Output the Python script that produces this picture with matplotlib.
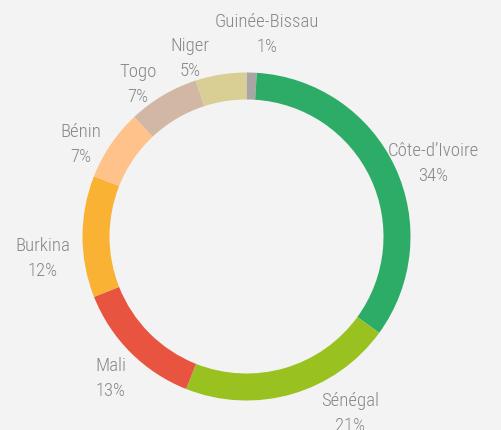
import numpy as np
import matplotlib
matplotlib.use('Agg')
import matplotlib.pyplot as plt
from matplotlib import font_manager

# ---- data (clockwise from 12 o'clock) ----
countries = ['Guinée-Bissau', "Côte-d’Ivoire", 'Sénégal', 'Mali',
             'Burkina', 'Bénin', 'Togo', 'Niger']
shares = [1, 34, 21, 13, 12, 7, 7, 5]
colors = ['#aba4a5', '#2dac68', '#99c221', '#e8543f',
          '#f9b233', '#fec28a', '#d2b7a4', '#d9cf95']

# label layout tweaks (degrees added to mid-angle, radius factor)
angle_nudge = [-4, -3.3, 14.3, 0.8, 5.7, 4.6, 4.4, 8.5]
radius_fac = [1.25, 1.23, 1.24, 1.19, 1.25, 1.16, 1.15, 1.15]

names = [f.name for f in font_manager.fontManager.ttflist]
family = 'DejaVu Sans'
for cand in ['Roboto Condensed', 'Liberation Sans Narrow', 'Roboto']:
    if cand in names:
        family = cand
        break

R = 164
W = 27

fig = plt.figure(figsize=(5.02, 4.30), dpi=100)
fig.patch.set_facecolor('#f3f3f3')
ax = fig.add_axes([0, 0, 1, 1])
ax.set_facecolor('#f3f3f3')

wedges, _ = ax.pie(shares, colors=colors, radius=R, startangle=90,
                   counterclock=False, center=(0, 0),
                   wedgeprops=dict(width=W, linewidth=0))

total = sum(shares)
start = 90.0
for i, (name, v) in enumerate(zip(countries, shares)):
    span = 360.0 * v / total
    mid = start - span / 2 + angle_nudge[i]
    start -= span
    r = R * radius_fac[i]
    x = r * np.cos(np.radians(mid))
    y = r * np.sin(np.radians(mid)) - 2
    ax.text(x, y, f'{name}\n{v}%', ha='center', va='center',
            fontsize=13.5, color='#878787', family=family,
            fontweight='light', linespacing=1.5)

ax.set_xlim(-246.5, 255.5)
ax.set_ylim(-193.5, 236.5)
ax.set_aspect('equal')
ax.axis('off')

fig.savefig('out.png', dpi=100, facecolor=fig.get_facecolor())
